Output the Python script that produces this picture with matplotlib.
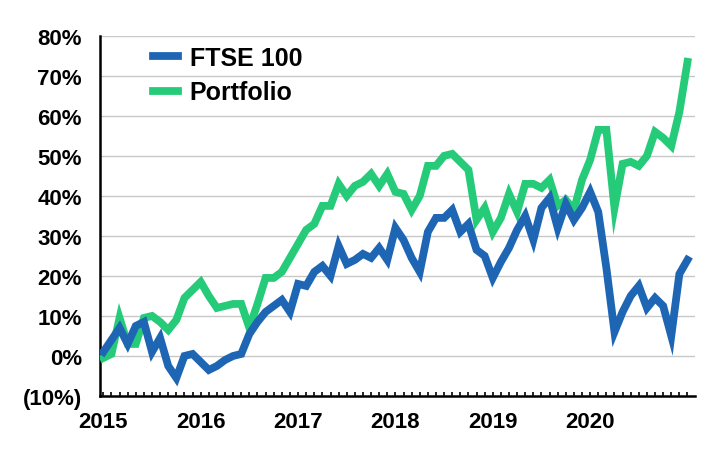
import matplotlib
matplotlib.use('Agg')
import matplotlib.pyplot as plt
from matplotlib.ticker import FuncFormatter, MultipleLocator

# monthly cumulative return (%), one point per month from start of 2015
ftse = [1, 4, 7, 3, 7.5, 8.5, 1, 4.5, -2.5, -5.5, 0, 0.5,
        -1.5, -3.5, -2.5, -1, 0, 0.5, 5.5, 8.5, 11, 12.5, 14, 11,
        18, 17.5, 21, 22.5, 20, 27.5, 23, 24, 25.5, 24.5, 27, 24,
        32, 29, 24.5, 21, 31, 34.5, 34.5, 36.5, 31, 33, 26.5, 25,
        19.5, 23.5, 27, 31.5, 35, 29, 37, 39.5, 32, 38, 34, 37,
        41, 36, 22, 6, 11, 15, 17.5, 12, 14.5, 12.5, 5, 20.5, 24]
portfolio = [-0.5, 0.5, 9.5, 3, 3, 9.5, 10, 8.5, 6.5, 9, 14.5, 16.5,
             18.5, 15, 12, 12.5, 13, 13, 7, 13, 19.5, 19.5, 21, 24.5,
             28, 31.5, 33, 37.5, 37.5, 43, 40, 42.5, 43.5, 45.5, 42.5, 45.5,
             41, 40.5, 36.5, 40, 47.5, 47.5, 50, 50.5, 48.5, 46.5, 34, 37,
             31, 34.5, 40.5, 36, 43, 43, 42, 44, 37.5, 39, 36.5, 44,
             49, 56.5, 56.5, 37, 48, 48.5, 47.5, 50, 56, 54.5, 52.5, 61, 73.5]
years = ['2015', '2016', '2017', '2018', '2019', '2020']

BLUE = '#1E66B4'
GREEN = '#26CB79'

plt.rcParams['font.family'] = ['Liberation Sans', 'DejaVu Sans']
plt.rcParams['font.weight'] = 'bold'

fig = plt.figure(figsize=(7.2, 4.6), dpi=100)
ax = fig.add_axes([0.139, 0.137, 0.826, 0.783])

x = list(range(len(ftse)))
ax.plot(x, portfolio, color=GREEN, linewidth=5.6, label='Portfolio', zorder=3,
        solid_joinstyle='miter')
ax.plot(x, ftse, color=BLUE, linewidth=5.6, label='FTSE 100', zorder=4,
        solid_joinstyle='miter')

ax.set_ylim(-10, 80)
ax.set_xlim(-0.4, 72.9)
ax.yaxis.set_major_locator(MultipleLocator(10))
ax.yaxis.set_major_formatter(FuncFormatter(
    lambda v, p: f'({abs(v):.0f}%)' if v < 0 else f'{v:.0f}%'))
ax.grid(axis='y', color='#C8C8C8', linewidth=1)
ax.set_axisbelow(True)

ax.set_xticks(range(0, 72, 12))
ax.set_xticklabels(years)
ax.set_xticks(range(0, 73), minor=True)
ax.tick_params(axis='x', which='both', direction='in', length=3, width=1.2,
               labelsize=16, pad=11)
ax.tick_params(axis='y', length=0, labelsize=16, pad=13)

for s in ['top', 'right']:
    ax.spines[s].set_visible(False)
for s in ['left', 'bottom']:
    ax.spines[s].set_linewidth(1.8)
    ax.spines[s].set_color('black')

handles, labels = ax.get_legend_handles_labels()
fig.legend(handles[::-1], labels[::-1], loc='upper left',
           bbox_to_anchor=(0.213, 0.898), frameon=False,
           prop={'size': 18, 'weight': 'bold'}, handlelength=1.0,
           handletextpad=0.45, labelspacing=0.42, borderpad=0, borderaxespad=0)

fig.savefig('out.png', dpi=100)
